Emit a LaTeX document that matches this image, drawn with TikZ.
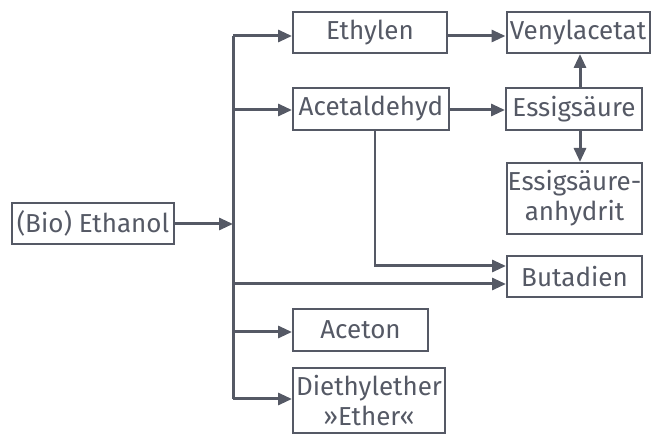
\documentclass[tikz,border=0pt]{standalone}
\usepackage{fontspec}
\setmainfont{Fira Sans}
\usetikzlibrary{arrows.meta}
\definecolor{ink}{HTML}{555965}
\tikzset{
  box/.style={draw=ink, line width=2pt, text=ink, inner sep=0pt, align=center, font=\fontsize{26}{30}\selectfont},
  flow/.style={draw=ink, line width=3pt, -{Triangle[length=14pt,width=12pt]}},
  thinline/.style={draw=ink, line width=1.6pt},
}
\begin{document}
\begin{tikzpicture}[x=1pt,y=-1pt]
\useasboundingbox (0,0) rectangle (651,435);
\node[box, minimum width=162pt, minimum height=41pt] (eth) at (93,223.5) {(Bio) Ethanol};
\node[box, minimum width=154pt, minimum height=41pt] (ethylen) at (370,32.5) {Ethylen};
\node[box, minimum width=143pt, minimum height=41pt] (veny) at (578,32.5) {Venylacetat};
\node[box, minimum width=156pt, minimum height=42pt] (acet) at (371,109) {Acetaldehyd};
\node[box, minimum width=136pt, minimum height=42pt] (essig) at (574,109) {Essigsäure};
\node[box, minimum width=135pt, minimum height=71pt] (anhy) at (574.5,198.5) {Essigsäure-\\anhydrit};
\node[box, minimum width=135pt, minimum height=41pt] (buta) at (574.5,276.5) {Butadien};
\node[box, minimum width=135pt, minimum height=42pt] (aceton) at (360.5,330) {Aceton};
\node[box, minimum width=152pt, minimum height=65pt] (diet) at (369,400.5) {Diethylether\\»Ether«};
\coordinate (btop) at (233,36);
\coordinate (bacet) at (233,110);
\coordinate (beth) at (233,224);
\coordinate (bbuta) at (233,284);
\coordinate (baceton) at (233,332);
\coordinate (bdiet) at (233,399);
\coordinate (acetdown) at (375,266);
% bus
\draw[draw=ink, line width=3pt] (btop) -- (bdiet);
\draw[flow] (eth.east |- beth) -- (beth);
\draw[flow] (btop) -- (ethylen.west |- btop);
\draw[flow] (bacet) -- (acet.west |- bacet);
\draw[flow] (bbuta) -- (buta.west |- bbuta);
\draw[flow] (baceton) -- (aceton.west |- baceton);
\draw[flow] (bdiet) -- (diet.west |- bdiet);
\draw[flow] (ethylen.east |- btop) -- (veny.west |- btop);
\draw[flow] (acet.east |- bacet) -- (essig.west |- bacet);
\draw[flow] (essig.north -| 580,0) -- (veny.south -| 580,0);
\draw[flow] (essig.south -| 580,0) -- (anhy.north -| 580,0);
\draw[thinline] (acet.south -| acetdown) -- (acetdown);
\draw[flow] ([xshift=-0.8pt]acetdown) -- (buta.west |- acetdown);
\end{tikzpicture}
\end{document}
